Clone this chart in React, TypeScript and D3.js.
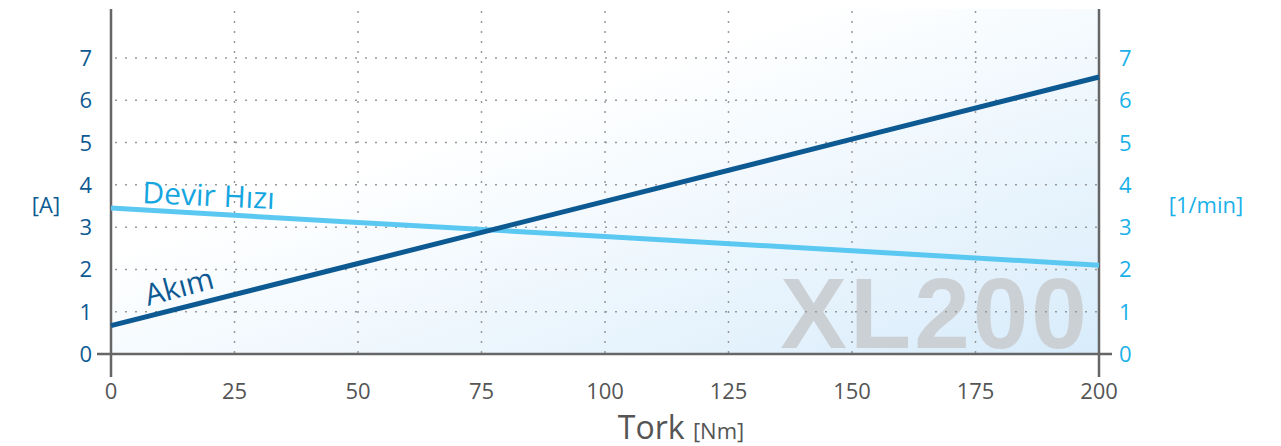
import { useRef, useEffect } from 'react';
import * as d3 from 'd3';

// chart data
const torque = [0, 50, 100, 150, 200];
const akim = [0.67, 2.14, 3.61, 5.08, 6.55];
const devirHizi = [3.45, 3.11, 2.78, 2.44, 2.1];
const xTicks = [0, 25, 50, 75, 100, 125, 150, 175, 200];
const yTicks = [0, 1, 2, 3, 4, 5, 6, 7];

const DARK = '#0d5a93';
const LIGHT = '#1ab1e9';
const LINE_LIGHT = '#5bc8f2';
const AXIS = '#666';

function App() {
  const svgRef = useRef<SVGSVGElement>(null);

  useEffect(() => {
    const width = 1281;
    const height = 446;
    const left = 111;
    const right = 1099;
    const top = 9;
    const bottom = 354;

    d3.select('body').style('margin', '0').style('overflow', 'hidden');

    const svg = d3.select(svgRef.current)
      .attr('width', width)
      .attr('height', height)
      .style('display', 'block');
    svg.selectAll('*').remove();

    const x = d3.scaleLinear().domain([0, 200]).range([left, right]);
    const y = d3.scaleLinear().domain([0, 7]).range([bottom, 58]);

    //Background gradient
    const defs = svg.append('defs');
    const grad = defs.append('linearGradient')
      .attr('id', 'bg')
      .attr('x1', '0').attr('y1', '0')
      .attr('x2', '1').attr('y2', '1');
    grad.append('stop').attr('offset', '0.35').attr('stop-color', '#ffffff');
    grad.append('stop').attr('offset', '1').attr('stop-color', '#d8ecfb');

    svg.append('rect')
      .attr('x', left).attr('y', top)
      .attr('width', right - left).attr('height', bottom - top)
      .attr('fill', 'url(#bg)');

    //Watermark
    svg.append('text')
      .attr('x', 1090).attr('y', 348)
      .attr('text-anchor', 'end')
      .attr('font-family', 'Liberation Sans, Arial, sans-serif')
      .attr('font-weight', 700)
      .attr('font-size', 100)
      .attr('letter-spacing', 3)
      .attr('fill', '#cbd0d5')
      .text('XL200');

    //Grid
    const grid = svg.append('g')
      .attr('stroke', '#999')
      .attr('stroke-width', 1.5)
      .attr('stroke-dasharray', '2,8');
    yTicks.filter(d => d > 0).forEach(d => {
      grid.append('line')
        .attr('x1', left + 4).attr('x2', right)
        .attr('y1', y(d)).attr('y2', y(d));
    });
    xTicks.filter(d => d > 0 && d < 200).forEach(d => {
      grid.append('line')
        .attr('x1', x(d)).attr('x2', x(d))
        .attr('y1', top + 2).attr('y2', bottom);
    });

    //Axes
    const axes = svg.append('g').attr('stroke', AXIS).attr('stroke-width', 2.5);
    axes.append('line').attr('x1', 97).attr('x2', 1112).attr('y1', bottom).attr('y2', bottom);
    axes.append('line').attr('x1', left).attr('x2', left).attr('y1', top).attr('y2', 377);
    axes.append('line').attr('x1', right).attr('x2', right).attr('y1', top).attr('y2', 377);

    const font = "'Open Sans', sans-serif";

    //Tick labels
    svg.append('g').selectAll('text').data(xTicks).join('text')
      .attr('x', d => x(d)).attr('y', 399)
      .attr('text-anchor', 'middle')
      .attr('font-family', font).attr('font-size', 22)
      .attr('fill', '#555')
      .text(d => d);

    svg.append('g').selectAll('text').data(yTicks).join('text')
      .attr('x', 92).attr('y', d => y(d) + 8)
      .attr('text-anchor', 'end')
      .attr('font-family', font).attr('font-size', 22)
      .attr('fill', DARK)
      .text(d => d);

    svg.append('g').selectAll('text').data(yTicks).join('text')
      .attr('x', 1119).attr('y', d => y(d) + 8)
      .attr('font-family', font).attr('font-size', 22)
      .attr('fill', LIGHT)
      .text(d => d);

    //Unit labels
    svg.append('text')
      .attr('x', 46).attr('y', 213)
      .attr('text-anchor', 'middle')
      .attr('font-family', font).attr('font-size', 22)
      .attr('fill', DARK).text('[A]');
    svg.append('text')
      .attr('x', 1206).attr('y', 213)
      .attr('text-anchor', 'middle')
      .attr('font-family', font).attr('font-size', 22)
      .attr('fill', LIGHT).text('[1/min]');

    const xTitle = svg.append('text')
      .attr('x', 681).attr('y', 439)
      .attr('text-anchor', 'middle')
      .attr('font-family', font)
      .attr('fill', '#555');
    xTitle.append('tspan').attr('font-size', 32).text('Tork ');
    xTitle.append('tspan').attr('font-size', 22).text('[Nm]');

    //Lines
    const line = d3.line<[number, number]>()
      .x(d => x(d[0]))
      .y(d => y(d[1]));

    svg.append('path')
      .datum(torque.map((t, i) => [t, devirHizi[i]] as [number, number]))
      .attr('fill', 'none')
      .attr('stroke', LINE_LIGHT)
      .attr('stroke-width', 5)
      .attr('d', line);

    svg.append('path')
      .datum(torque.map((t, i) => [t, akim[i]] as [number, number]))
      .attr('fill', 'none')
      .attr('stroke', DARK)
      .attr('stroke-width', 5)
      .attr('d', line);

    //Series labels
    svg.append('text')
      .attr('transform', 'translate(142,203) rotate(2.6)')
      .attr('font-family', font).attr('font-size', 30)
      .attr('fill', '#16a6df')
      .text('Devir Hızı');

    svg.append('text')
      .attr('transform', 'translate(148,306) rotate(-15)')
      .attr('font-family', font).attr('font-size', 30)
      .attr('fill', DARK)
      .text('Akım');
  }, []);

  return <svg ref={svgRef} />;
}

export default App;
